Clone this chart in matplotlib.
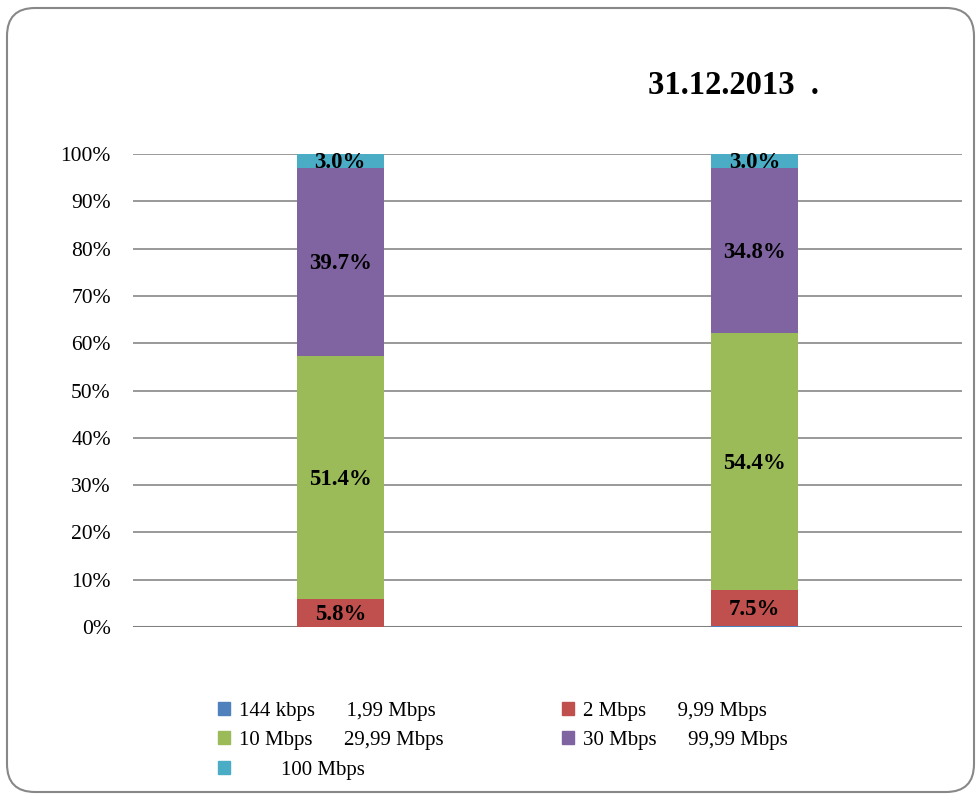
import matplotlib.pyplot as plt
import numpy as np
from matplotlib.patches import FancyBboxPatch, Patch
from matplotlib.transforms import IdentityTransform

plt.rcParams['font.family'] = ['Liberation Serif', 'DejaVu Serif']

# Data (percent of subscriptions by speed band)
categories = ['A', 'B']
series_names = ['144 kbps      1,99 Mbps', '2 Mbps      9,99 Mbps',
                '10 Mbps      29,99 Mbps', '30 Mbps      99,99 Mbps',
                '        100 Mbps']
low_speed = [0.1, 0.3]
mid_speed = [5.8, 7.5]
fast_speed = [51.4, 54.4]
faster_speed = [39.7, 34.8]
top_speed = [3.0, 3.0]
colors = ['#4F81BD', '#C0504D', '#9BBB59', '#8064A2', '#4BACC6']
show_label = [False, True, True, True, True]

series = [low_speed, mid_speed, fast_speed, faster_speed, top_speed]

W, H = 979, 794
fig = plt.figure(figsize=(W / 100, H / 100), dpi=100)

# rounded chart border
border = FancyBboxPatch((7, 2), W - 12, H - 10,
                        boxstyle='round,pad=0,rounding_size=28',
                        transform=IdentityTransform(), fill=False,
                        edgecolor='#888888', linewidth=1.5)
fig.patches.append(border)

ax = fig.add_axes([133 / W, (H - 627) / H, (962 - 133) / W, (627 - 154) / H])
x = np.arange(len(categories))
bottom = np.zeros(len(categories))
for vals, col, lab in zip(series, colors, show_label):
    vals = np.array(vals)
    ax.bar(x, vals, width=0.21, bottom=bottom, color=col, zorder=3)
    if lab:
        for xi, b, v in zip(x, bottom, vals):
            ax.text(xi, b + v / 2 - 0.4, f'{v:.1f}%', ha='center', va='center',
                    fontsize=16.5, fontweight='bold', zorder=4)
    bottom += vals

ax.set_xlim(-0.5, 1.5)
ax.set_ylim(0, 100)
ax.set_yticks(np.arange(0, 101, 10))
ax.set_yticklabels([f'{t}%' for t in range(0, 101, 10)], fontsize=15.5)
ax.set_xticks([])
ax.tick_params(axis='y', length=0, pad=16)
for s in ax.spines.values():
    s.set_visible(False)
for t in range(10, 101, 10):
    ax.axhline(t, color='#888888', linewidth=1.2, zorder=1)
ax.axhline(0, color='#7f7f7f', linewidth=2.2, zorder=2)

fig.text(733 / W, 1 - 86 / H, '31.12.2013  .', ha='center', va='center',
         fontsize=23.5, fontweight='bold')

order = [0, 2, 4, 1, 3]
handles = [Patch(color=colors[i]) for i in order]
labels = [series_names[i] for i in order]
fig.legend(handles, labels, ncol=2, loc='upper left',
           bbox_to_anchor=(199 / W, 1 - 683 / H), frameon=False,
           fontsize=15, handlelength=0.6, handleheight=0.6,
           handletextpad=0.4, columnspacing=5.7, labelspacing=0.5)

fig.savefig('out.png', dpi=100)
